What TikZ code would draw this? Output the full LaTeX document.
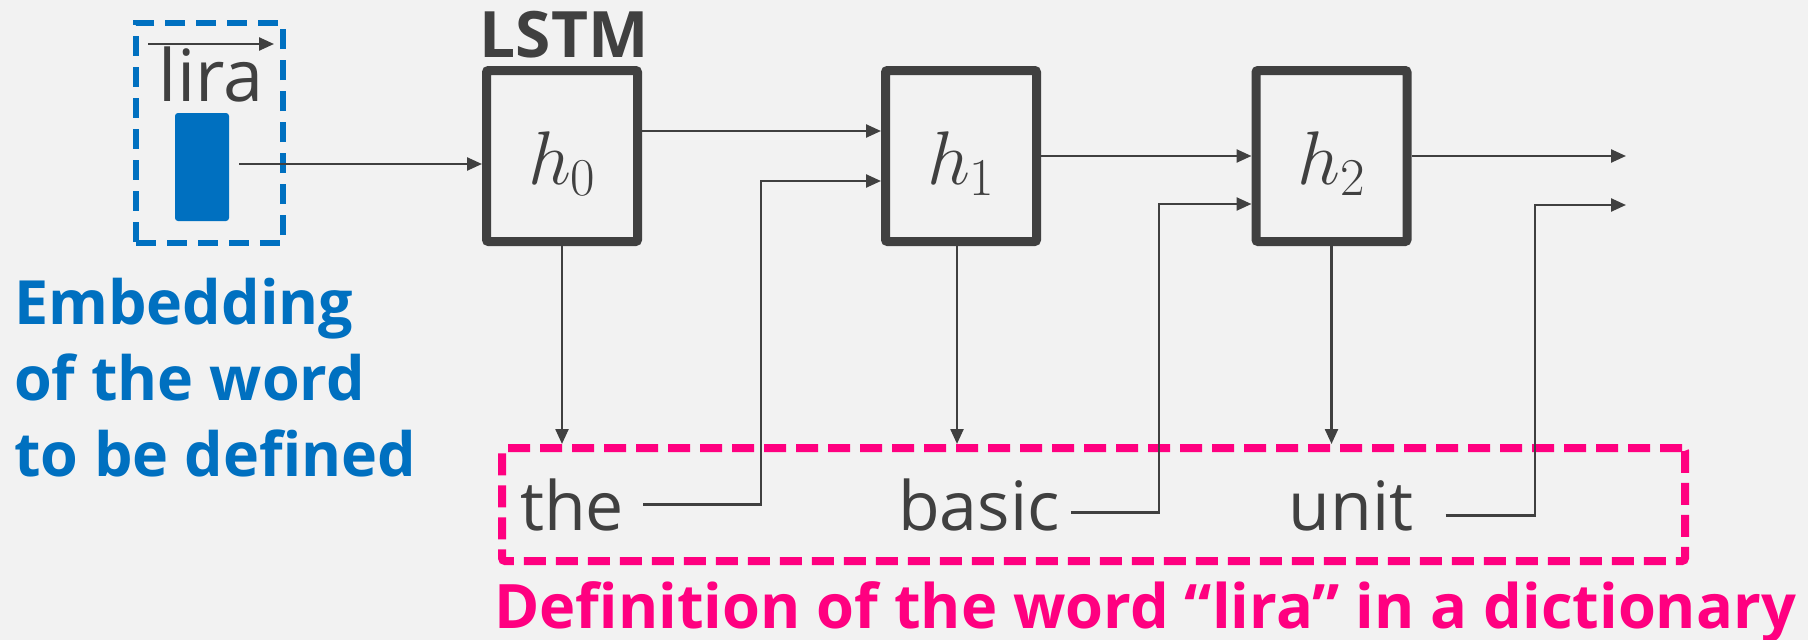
\RequirePackage{fix-cm}
\documentclass[tikz,border=0pt]{standalone}
\usepackage[no-math]{fontspec}
\setmainfont{Open Sans}
\usetikzlibrary{arrows.meta}
\definecolor{ink}{HTML}{404040}
\definecolor{embblue}{HTML}{0070C0}
\definecolor{defpink}{HTML}{FF0080}
\definecolor{bgc}{HTML}{F2F2F2}
\newcommand{\cellsym}[1]{\raisebox{-28pt}[0pt][0pt]{$#1$}}
\begin{document}
\begin{tikzpicture}[x=1pt,y=-1pt,
  cell/.style={draw=ink, line width=9pt, minimum width=151pt, minimum height=171pt, inner sep=0pt, rounded corners=2pt, text=ink, font=\fontsize{76}{80}\selectfont},
  conn/.style={draw=ink, line width=2.4pt},
  arr/.style={conn, -{Triangle[length=15pt,width=13pt]}},
  word/.style={text=ink, font=\fontsize{68}{80}\selectfont, inner sep=0pt, anchor=base},
  emb/.style={text=embblue, font=\bfseries\fontsize{61}{70}\selectfont, inner sep=0pt, anchor=base west}]
\fill[bgc] (0,0) rectangle (1808,640);
\useasboundingbox (0,0) rectangle (1808,640);
% LSTM cells
\node[cell] (h0) at (562,156) {\cellsym{h_0}};
\node[cell] (h1) at (961,156) {\cellsym{h_1}};
\node[cell] (h2) at (1331.5,156) {\cellsym{h_2}};
\node[text=ink, font=\bfseries\fontsize{64}{70}\selectfont, inner sep=0pt, anchor=base] (lstm) at (564,57) {LSTM};
% embedding
\node[draw=embblue, line width=6pt, dash pattern=on 20pt off 11pt, minimum width=147pt, minimum height=220pt, inner sep=0pt] (embbox) at (209.5,133) {};
\node[fill=embblue, rounded corners=3pt, minimum width=54pt, minimum height=108pt, inner sep=0pt] (vec) at (202,167) {};
\node[word, font=\fontsize{72}{80}\selectfont] (lira) at (211,101) {lira};
\coordinate (la) at (148,44);
\coordinate (lb) at (274,44);
\draw[arr] (la) -- (lb);
\coordinate (e0) at ([xshift=10pt,yshift=3pt]vec.east);
\draw[arr] (e0) -- (e0 -| h0.west);
% definition box
\node[draw=defpink, line width=8pt, dash pattern=on 22pt off 10pt, minimum width=1183pt, minimum height=113pt, inner sep=0pt, rounded corners=3pt] (defbox) at (1093.5,504.5) {};
\node[word] (the) at (572,530) {the};
\node[word] (basic) at (979,530) {basic};
\node[word] (unit) at (1351,530) {unit};
% recurrent connections
\draw[arr] ([yshift=25pt]h0.east) -- ([yshift=25pt]h1.west);
\draw[arr] (h1.east) -- (h2.west);
\coordinate (o1) at (1626,156);
\draw[arr] (h2.east) -- (o1);
% outputs down
\draw[arr] (h0.south) -- (h0.south |- defbox.north);
\draw[arr] ([xshift=-4pt]h1.south) -- ([xshift=-4pt]h1.south |- defbox.north);
\draw[arr] (h2.south) -- (h2.south |- defbox.north);
% word feedback
\coordinate (t1) at (761,181);
\coordinate (t2) at (1159,204);
\coordinate (t3) at (1535,205);
\coordinate (o2) at (1626,205);
\draw[arr] ([xshift=19pt]the.east) -| (t1) -- (t1 -| h1.west);
\draw[arr] ([xshift=11pt,yshift=-8pt]basic.east) -| (t2) -- (t2 -| h2.west);
\draw[arr] ([xshift=32pt,yshift=-10pt]unit.east) -| (t3) -- (o2);
% labels
\node[emb] (em1) at (14,324) {Embedding};
\node[emb] (em2) at (14,400) {of the word};
\node[emb] (em3) at (14,476) {to be defined};
\node[text=defpink, font=\bfseries\fontsize{61.3}{70}\selectfont, inner sep=0pt, anchor=base west] (title) at (494,628) {Definition of the word “lira” in a dictionary};
\end{tikzpicture}
\end{document}
